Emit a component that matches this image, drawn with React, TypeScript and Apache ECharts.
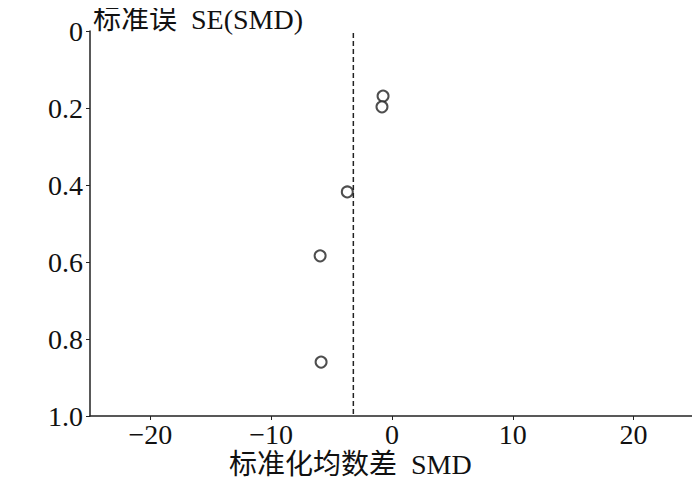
import React, { useEffect, useRef } from "react";
import * as echarts from "echarts";

const smd = [-0.74, -0.83, -3.7, -5.95, -5.87];
const se = [0.169, 0.197, 0.418, 0.584, 0.86];
const pooledSMD = -3.2;
const xTicks = [-20, -10, 0, 10, 20];
const yTicks = [0, 0.2, 0.4, 0.6, 0.8, 1.0];
const yTitle = "标准误  SE(SMD)";
const xTitle = "标准化均数差  SMD";

const FONT = '"Liberation Serif", "Noto Sans CJK SC", serif';

export default function App() {
  const ref = useRef<HTMLDivElement>(null);
  useEffect(() => {
    if (!ref.current) return;
    const chart = echarts.init(ref.current, undefined, { renderer: "svg" });
    const points = smd.map((x, i) => [x, se[i]]);
    chart.setOption({
      animation: false,
      backgroundColor: "#ffffff",
      grid: { left: 90, right: 6, top: 31, bottom: 69 },
      xAxis: {
        type: "value",
        position: "bottom",
        min: -25,
        max: 25,
        interval: 5,
        axisLine: { show: true, onZero: false, lineStyle: { color: "#222", width: 1.5 } },
        axisTick: {
          show: true,
          length: 4,
          lineStyle: { color: "#222" },
          customValues: xTicks,
        },
        axisLabel: {
          color: "#111",
          fontFamily: FONT,
          fontSize: 28,
          margin: 4,
          customValues: xTicks,
          formatter: (v: number) => String(v).replace("-", "−"),
        },
        splitLine: { show: false },
      },
      yAxis: {
        type: "value",
        inverse: true,
        position: "left",
        min: 0,
        max: 1,
        interval: 0.2,
        axisLine: { show: true, onZero: false, lineStyle: { color: "#222", width: 1.5 } },
        axisTick: { show: true, length: 4, lineStyle: { color: "#222" } },
        axisLabel: {
          color: "#111",
          fontFamily: FONT,
          fontSize: 28,
          margin: 7,
          formatter: (v: number) => {
            const t = yTicks.find((y) => Math.abs(y - v) < 1e-6);
            if (t === undefined) return "";
            if (t === 0) return "0";
            return t.toFixed(1);
          },
        },
        splitLine: { show: false },
      },
      graphic: [
        {
          type: "text",
          left: 93,
          top: 5,
          style: { text: yTitle, fontFamily: FONT, fontSize: 28, fill: "#111" },
        },
        {
          type: "text",
          left: 229,
          top: 450,
          style: { text: xTitle, fontFamily: FONT, fontSize: 28, fill: "#111" },
        },
      ],
      series: [
        {
          type: "line",
          data: [
            [pooledSMD, 0.005],
            [pooledSMD, 1],
          ],
          symbol: "none",
          lineStyle: { color: "#222", width: 1.5, type: [5, 3] },
          silent: true,
        },
        {
          type: "scatter",
          data: points,
          symbol: "circle",
          symbolSize: 11,
          itemStyle: { color: "#fff", borderColor: "#222", borderWidth: 2 },
        },
      ],
    });
    return () => chart.dispose();
  }, []);
  return <div ref={ref} style={{ width: 700, height: 485, margin: -8 }} />;
}
